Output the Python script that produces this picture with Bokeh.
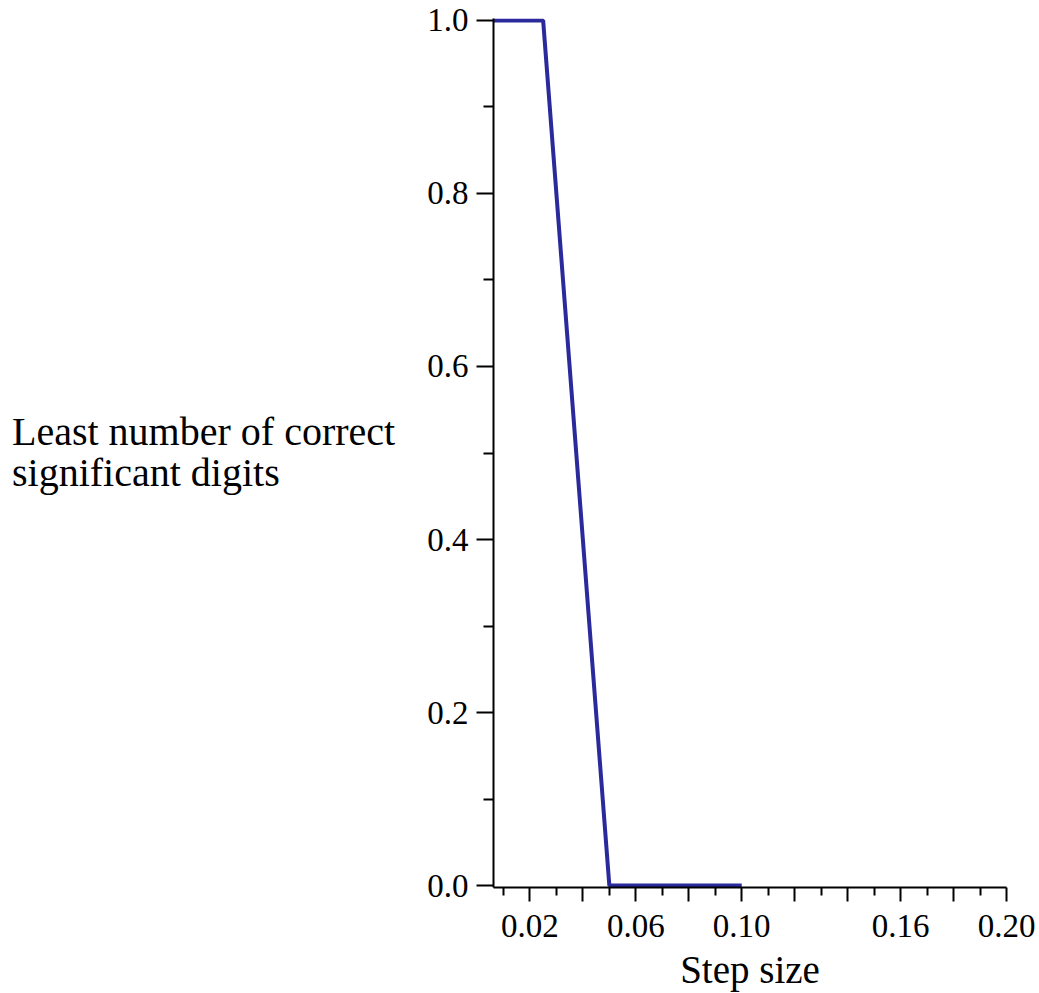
from bokeh.plotting import figure
from bokeh.models import FixedTicker, Range1d, Div
from bokeh.layouts import row
from bokeh.embed import file_html
from bokeh.resources import INLINE

# Data
step_size = [0.00625, 0.0125, 0.025, 0.05, 0.1]
least_digits = [1, 1, 1, 0, 0]

x_major = [0.02, 0.04, 0.06, 0.08, 0.10, 0.12, 0.14, 0.16, 0.18, 0.20]
x_minor = [0.01, 0.03, 0.05, 0.07, 0.09, 0.11, 0.13, 0.15, 0.17, 0.19]
x_labels = {0.02: "0.02", 0.04: "", 0.06: "0.06", 0.08: "", 0.10: "0.10",
            0.12: "", 0.14: "", 0.16: "0.16", 0.18: "", 0.20: "0.20"}
y_major = [0.0, 0.2, 0.4, 0.6, 0.8, 1.0]
y_minor = [0.1, 0.3, 0.5, 0.7, 0.9]
y_labels = {0.0: "0.0", 0.2: "0.2", 0.4: "0.4", 0.6: "0.6", 0.8: "0.8", 1.0: "1.0"}
y_title_lines = ["Least number of correct", "significant digits"]
x_title = "Step size"

FONT = "Liberation Serif"
DIV_W = 400
FIG_W = 636
H = 993
PAD = 0.0023  # small padding so the thick line at y=0 and y=1 is not clipped

p = figure(width=FIG_W, height=H, output_backend="svg", toolbar_location=None,
           x_range=Range1d(0.00625, 0.20), y_range=Range1d(-PAD, 1.0 + PAD),
           min_border_left=493 - DIV_W, min_border_right=FIG_W - (1006 - DIV_W),
           min_border_top=18, min_border_bottom=H - 888)
p.outline_line_color = None
p.grid.visible = False
p.background_fill_color = "white"
p.border_fill_color = "white"

p.line(step_size, least_digits, line_color="#2a2a9c", line_width=4)

xa = p.xaxis[0]
xa.ticker = FixedTicker(ticks=x_major, minor_ticks=x_minor)
xa.major_label_overrides = x_labels
xa.axis_line_width = 2
xa.axis_line_color = "black"
xa.major_tick_line_width = 2
xa.minor_tick_line_width = 2
xa.major_tick_out = 14
xa.major_tick_in = 0
xa.minor_tick_out = 8
xa.minor_tick_in = 0
xa.major_label_text_font = FONT
xa.major_label_text_font_size = "33px"
xa.major_label_text_color = "black"
xa.major_label_standoff = 13
xa.axis_label = x_title
xa.axis_label_text_font = FONT
xa.axis_label_text_font_size = "39px"
xa.axis_label_text_font_style = "normal"
xa.axis_label_text_color = "black"
xa.axis_label_standoff = 8

ya = p.yaxis[0]
ya.ticker = FixedTicker(ticks=y_major, minor_ticks=y_minor)
ya.major_label_overrides = y_labels
ya.axis_line_width = 2
ya.axis_line_color = "black"
ya.major_tick_line_width = 2
ya.minor_tick_line_width = 2
ya.major_tick_out = 17
ya.major_tick_in = 0
ya.minor_tick_out = 10
ya.minor_tick_in = 0
ya.major_label_text_font = FONT
ya.major_label_text_font_size = "33px"
ya.major_label_text_color = "black"
ya.major_label_standoff = 8

title_html = (
    '<div style="padding-top:411px; padding-left:12px; font-family:\'Liberation Serif\';'
    ' font-size:40px; line-height:41px; color:black; white-space:nowrap;">'
    + "<br>".join(y_title_lines) + "</div>"
)
ytitle = Div(text=title_html, width=DIV_W, height=H, margin=(0, 0, 0, 0))

layout = row(ytitle, p, spacing=0)

open("out.html", "w").write(file_html(layout, INLINE))
